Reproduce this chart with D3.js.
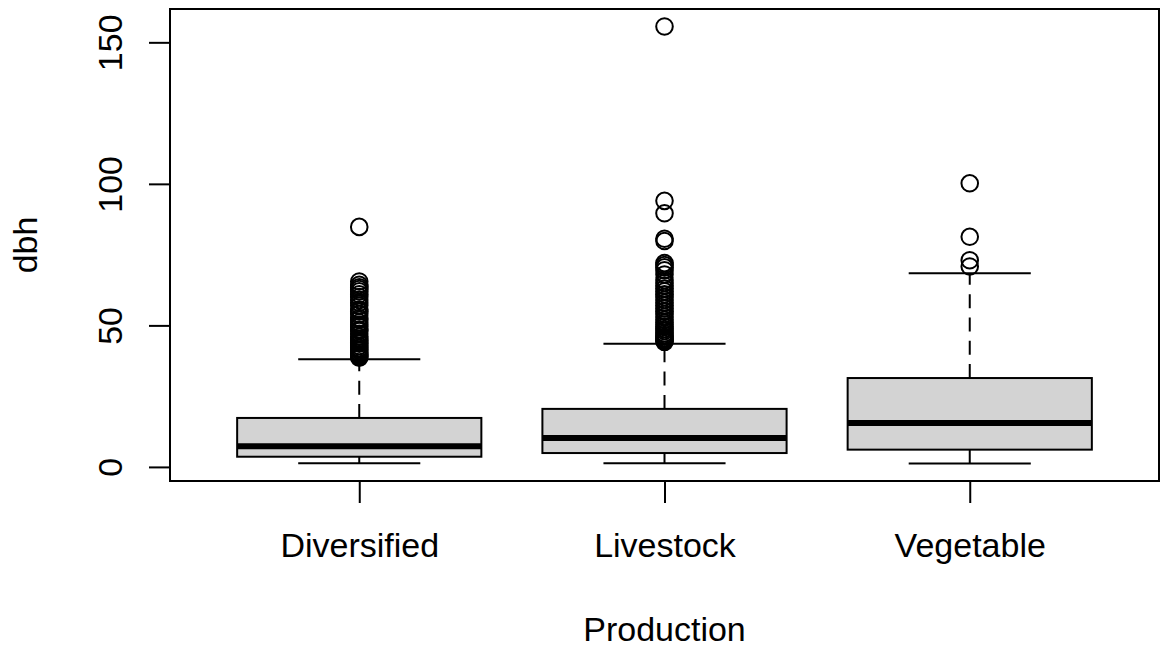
<!DOCTYPE html>
<html>
<head>
<meta charset="utf-8">
<script src="https://cdn.jsdelivr.net/npm/d3@7"></script>
<style>
  html, body { margin: 0; padding: 0; background: #ffffff; }
  svg { display: block; }
  text { font-family: "Liberation Sans", Arial, Helvetica, sans-serif; fill: #000; }
</style>
</head>
<body>
<svg id="chart" width="1160" height="649"></svg>
<script>
// Production type groups
const categories = ["Diversified", "Livestock", "Vegetable"];

// Five-number summaries of dbh per group
const whiskerLow  = [1.3, 1.3, 1.2];
const q1          = [3.6, 4.9, 6.1];
const median      = [7.3, 10.2, 15.5];
const q3          = [17.3, 20.5, 31.4];
const whiskerHigh = [38.0, 43.5, 68.4];

// Points beyond the whiskers
const outliersDiversified = [
  38.6, 39.0, 39.4, 39.8, 40.3, 41.0, 41.5, 42.0, 42.7, 43.5, 44.0, 44.6,
  45.2, 46.0, 47.0, 48.0, 48.5, 49.5, 50.2, 51.0, 52.0, 52.6, 54.0, 55.0,
  55.6, 57.0, 58.0, 59.0, 60.0, 61.0, 62.0, 62.8, 63.5, 64.3, 65.5, 84.8
];
const outliersLivestock = [
  44.2, 44.6, 45.0, 45.5, 46.0, 46.6, 47.2, 48.0, 48.7, 49.5, 50.3, 51.0,
  52.0, 53.0, 54.0, 55.0, 56.0, 57.0, 58.0, 59.0, 60.0, 61.0, 62.0, 63.0,
  64.0, 65.0, 66.0, 68.0, 69.5, 70.5, 71.3, 72.0, 79.8, 80.6, 89.6, 94.0,
  155.6
];
const outliersVegetable = [70.8, 73.0, 81.3, 100.2];
const outliers = [outliersDiversified, outliersLivestock, outliersVegetable];

const yTicks = [0, 50, 100, 150];
const xTitle = "Production";
const yTitle = "dbh";

const svg = d3.select("#chart");
const plot = { left: 170, right: 1159, top: 9, bottom: 481 };

// Axis ranges padded by 4% on each side
const allVals = whiskerLow.concat(whiskerHigh, ...outliers);
const yMin = d3.min(allVals), yMax = d3.max(allVals);
const yPad = (yMax - yMin) * 0.04;
const y = d3.scaleLinear()
  .domain([yMin - yPad, yMax + yPad])
  .range([plot.bottom, plot.top]);

const n = categories.length;
const xPad = n * 0.04;
const x = d3.scaleLinear()
  .domain([0.5 - xPad, n + 0.5 + xPad])
  .range([plot.left, plot.right]);

const boxHalf = 0.4, capHalf = 0.2;

const groups = categories.map((c, i) => ({
  name: c, pos: i + 1,
  lo: whiskerLow[i], q1: q1[i], med: median[i], q3: q3[i], hi: whiskerHigh[i],
  out: outliers[i]
}));

const g = svg.selectAll("g.group").data(groups).join("g").attr("class", "group");

// whiskers (dashed, drawn outward from the box)
g.append("path")
  .attr("d", d => `M${x(d.pos)},${y(d.q3)}V${y(d.hi)}M${x(d.pos)},${y(d.q1)}V${y(d.lo)}`)
  .attr("stroke", "#000").attr("stroke-width", 2).attr("fill", "none")
  .attr("stroke-dasharray", "14,9.3");

// whisker caps
g.append("path")
  .attr("d", d => `M${x(d.pos - capHalf)},${y(d.hi)}H${x(d.pos + capHalf)}M${x(d.pos - capHalf)},${y(d.lo)}H${x(d.pos + capHalf)}`)
  .attr("stroke", "#000").attr("stroke-width", 2).attr("fill", "none");

// boxes
g.append("rect")
  .attr("x", d => x(d.pos - boxHalf))
  .attr("width", d => x(d.pos + boxHalf) - x(d.pos - boxHalf))
  .attr("y", d => y(d.q3))
  .attr("height", d => y(d.q1) - y(d.q3))
  .attr("fill", "#d3d3d3").attr("stroke", "#000").attr("stroke-width", 2);

// medians
g.append("line")
  .attr("x1", d => x(d.pos - boxHalf)).attr("x2", d => x(d.pos + boxHalf))
  .attr("y1", d => y(d.med)).attr("y2", d => y(d.med))
  .attr("stroke", "#000").attr("stroke-width", 6);

// outliers
g.selectAll("circle")
  .data(d => d.out.map(v => ({ pos: d.pos, v })))
  .join("circle")
  .attr("cx", d => x(d.pos)).attr("cy", d => y(d.v))
  .attr("r", 8.3).attr("fill", "none").attr("stroke", "#000").attr("stroke-width", 2);

// frame
svg.append("rect")
  .attr("x", plot.left).attr("y", plot.top)
  .attr("width", plot.right - plot.left).attr("height", plot.bottom - plot.top)
  .attr("fill", "none").attr("stroke", "#000").attr("stroke-width", 2);

const fontSize = 34;

// y axis
const yAxis = svg.append("g")
  .attr("transform", `translate(${plot.left},0)`)
  .call(d3.axisLeft(y).tickValues(yTicks).tickSize(21).tickSizeOuter(0).tickPadding(0).tickFormat(d3.format("d")));
yAxis.select(".domain").remove();
yAxis.selectAll(".tick line").attr("stroke", "#000").attr("stroke-width", 2);
yAxis.selectAll(".tick text")
  .attr("x", null).attr("dy", null)
  .attr("transform", "translate(-48,0) rotate(-90)")
  .attr("text-anchor", "middle")
  .style("font-size", fontSize + "px")
  .style("font-family", "'Liberation Sans', Arial, sans-serif")
  .attr("fill", "#000");

// x axis
const xAxis = svg.append("g")
  .attr("transform", `translate(0,${plot.bottom})`)
  .call(d3.axisBottom(x).tickValues(groups.map(d => d.pos)).tickSize(22).tickSizeOuter(0)
    .tickFormat((d, i) => categories[i]));
xAxis.select(".domain").remove();
xAxis.selectAll(".tick line").attr("stroke", "#000").attr("stroke-width", 2);
xAxis.selectAll(".tick text")
  .attr("y", 76).attr("dy", null)
  .attr("text-anchor", "middle")
  .style("font-size", fontSize + "px")
  .style("font-family", "'Liberation Sans', Arial, sans-serif")
  .attr("fill", "#000");

// axis titles
svg.append("text")
  .attr("x", (plot.left + plot.right) / 2).attr("y", 641)
  .attr("text-anchor", "middle").style("font-size", fontSize + "px")
  .text(xTitle);

svg.append("text")
  .attr("transform", `translate(36.5,${(plot.top + plot.bottom) / 2}) rotate(-90)`)
  .attr("text-anchor", "middle").style("font-size", fontSize + "px")
  .text(yTitle);
</script>
</body>
</html>
